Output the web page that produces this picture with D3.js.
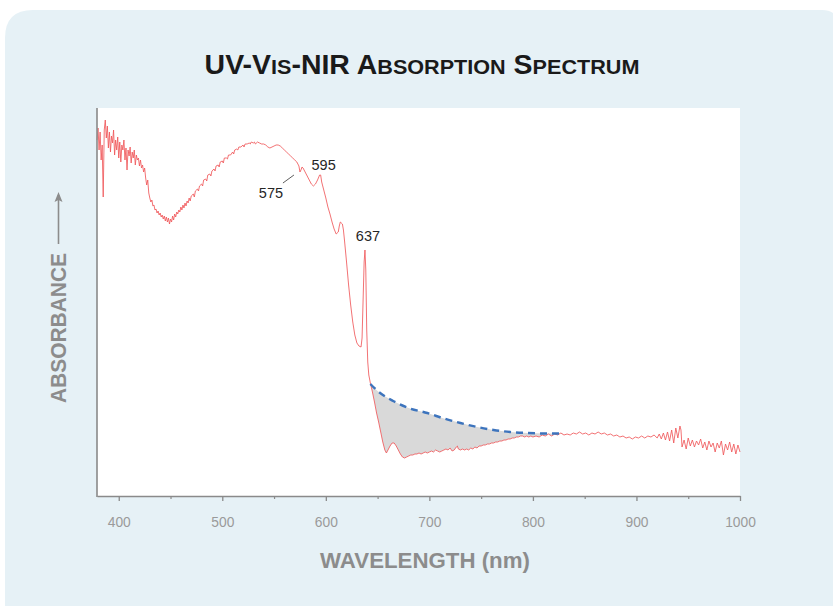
<!DOCTYPE html>
<html>
<head>
<meta charset="utf-8">
<script src="https://cdn.jsdelivr.net/npm/d3@7"></script>
<style>
  html, body { margin: 0; padding: 0; background: #ffffff; }
  svg { display: block; }
</style>
</head>
<body>
<svg id="chart" width="833" height="611"></svg>
<script>
// ---------------- DATA ----------------
const xTicksMajor = [400, 500, 600, 700, 800, 900, 1000];
const xTicksMinor = [450, 550, 650, 750, 850, 950];

// [wavelength nm, absorbance (arbitrary units)]
const spectrum = [
  [379,3.56],[380,3.68],[381,3.46],[382,3.64],[383,3.36],[384,3.51],[385,2.99],[386,3.66],[387,3.76],[388,3.58],
  [389,3.70],[390,3.48],[391,3.64],[392,3.44],[393,3.60],[394,3.53],[395,3.66],[396,3.41],[397,3.56],[398,3.46],
  [399,3.59],[400,3.38],[401,3.54],[402,3.34],[403,3.51],[404,3.46],[405,3.56],[406,3.36],[407,3.48],[408,3.26],
  [409,3.46],[410,3.40],[411,3.49],[412,3.33],[413,3.44],[414,3.38],[415,3.46],[416,3.31],[417,3.41],[418,3.36],
  [419,3.38],[420,3.30],[421,3.36],[422,3.28],[423,3.31],[424,3.24],[425,3.28],[426,3.18],[427,3.11],[428,3.16],
  [429,3.03],[430,2.98],[431,2.94],[432,2.96],[433,2.90],[434,2.91],[435,2.86],[436,2.87],[437,2.83],[438,2.85],
  [439,2.81],[440,2.83],[441,2.79],[442,2.81],[443,2.77],[444,2.80],[445,2.75],[446,2.79],[447,2.74],[448,2.78],
  [449,2.72],[450,2.77],[451,2.74],[452,2.80],[453,2.76],[454,2.82],[455,2.79],[456,2.84],[457,2.82],[458,2.86],
  [459,2.84],[460,2.89],[461,2.86],[462,2.91],[463,2.88],[464,2.93],[465,2.90],[466,2.95],[467,2.93],[468,2.98],
  [469,2.95],[470,3.00],[472,3.02],[473,2.99],[474,3.05],[476,3.07],[477,3.05],[478,3.10],[480,3.12],[481,3.10],
  [482,3.16],[484,3.17],[485,3.15],[486,3.21],[488,3.22],[489,3.20],[490,3.25],[492,3.27],[493,3.25],[494,3.30],
  [496,3.31],[497,3.29],[498,3.34],[500,3.35],[501,3.33],[502,3.38],[504,3.38],[505,3.37],[506,3.41],[508,3.41],
  [510,3.44],[511,3.42],[512,3.46],[514,3.47],[515,3.46],[516,3.49],[518,3.49],[520,3.51],[521,3.49],[522,3.52],
  [524,3.52],[526,3.53],[527,3.52],[528,3.54],[530,3.53],[531,3.54],[532,3.52],[534,3.54],[536,3.53],
  [538,3.52],[540,3.52],[542,3.51],[544,3.49],[546,3.48],[548,3.49],[550,3.50],[552,3.51],[554,3.51],[556,3.50],
  [558,3.48],[560,3.46],[562,3.44],[564,3.42],[566,3.40],[568,3.38],[570,3.36],[572,3.34],[574,3.30],[575,3.24],
  [576,3.26],[577,3.29],[578,3.28],[580,3.24],[582,3.20],[584,3.16],[586,3.12],[588,3.10],[590,3.12],[592,3.16],
  [594,3.21],[595,3.21],[596,3.14],[598,3.06],[600,2.98],[602,2.89],[604,2.82],[606,2.74],[608,2.67],[610,2.62],
  [612,2.64],[613,2.70],[614,2.74],[616,2.72],[617,2.66],[618,2.56],[620,2.34],[622,2.11],[624,1.91],[626,1.74],
  [628,1.61],[630,1.53],[632,1.50],[634,1.49],[635,1.58],[636,1.96],[637,2.34],[637.8,2.46],[638.6,2.26],[639.5,1.66],
  [640.5,1.34],[641.5,1.21],[643,1.13],[645,1.04],[647,0.94],[649,0.83],[651,0.74],[653,0.64],[655,0.54],[657,0.46],
  [658.5,0.43],[660,0.46],[662,0.50],[664,0.53],[666,0.53],[668,0.50],[670,0.46],[672,0.42],[674,0.39],[676,0.38],
  [678,0.39],[680,0.40],[682,0.41],[684,0.41],[686,0.42],[688,0.42],[690,0.43],[692,0.42],[694,0.43],[696,0.44],
  [698,0.43],[700,0.44],[702,0.45],[704,0.44],[706,0.46],[708,0.45],[710,0.44],[712,0.45],[714,0.46],[716,0.47],
  [718,0.46],[720,0.48],[722,0.45],[724,0.46],[726,0.49],[727,0.50],[728,0.47],[730,0.46],[732,0.47],[734,0.46],
  [736,0.47],[738,0.46],[740,0.48],[742,0.47],[744,0.49],[746,0.48],[748,0.50],[750,0.50],[752,0.51],[754,0.51],
  [756,0.52],[758,0.52],[760,0.53],[762,0.53],[764,0.54],[766,0.54],[768,0.55],[770,0.55],[772,0.56],[774,0.56],
  [776,0.57],[778,0.57],[780,0.58],[782,0.58],[784,0.59],[786,0.59],[788,0.60],[790,0.60],[792,0.59],[794,0.60],
  [796,0.59],[798,0.60],[800,0.59],[803,0.60],[806,0.59],[809,0.61],[812,0.60],[815,0.62],[818,0.60],[821,0.62],
  [824,0.61],[827,0.63],[830,0.61],[833,0.62],[836,0.61],[839,0.63],[842,0.62],[845,0.64],[848,0.62],[851,0.63],
  [854,0.61],[857,0.63],[860,0.62],[863,0.64],[866,0.62],[869,0.63],[872,0.61],[875,0.62],[878,0.60],[881,0.61],
  [884,0.59],[887,0.60],[890,0.58],[893,0.59],[896,0.57],[899,0.59],[902,0.58],[905,0.60],[908,0.58],[911,0.60],
  [914,0.59],[917,0.61],[920,0.58],[922,0.62],[924,0.57],[926,0.63],[928,0.56],[930,0.64],[932,0.55],[934,0.66],
  [936,0.53],[938,0.68],[940,0.58],[942,0.70],[943,0.66],[944,0.49],[946,0.56],[948,0.47],[950,0.58],[952,0.50],
  [954,0.56],[956,0.49],[958,0.55],[960,0.51],[962,0.57],[964,0.48],[966,0.54],[968,0.46],[970,0.55],[972,0.49],
  [974,0.53],[976,0.44],[978,0.53],[980,0.48],[982,0.55],[984,0.41],[986,0.52],[988,0.46],[990,0.54],[992,0.44],
  [994,0.52],[996,0.42],[998,0.51],[1000,0.44]
];

// fitted background (dashed) [wavelength nm, absorbance]
const baseline = [
  [643,1.12],[650,1.05],[665,0.95],[680,0.88],[698,0.83],[714,0.775],[730,0.73],[746,0.69],[762,0.66],[778,0.64],
  [795,0.63],[812,0.625],[829,0.625]
];

const peakLabels = [575, 595, 637];

// ---------------- LAYOUT ----------------
const svg = d3.select("#chart");
const plot = { left: 97, right: 740, top: 108, bottom: 496 };

const x = d3.scaleLinear().domain([379, 1000]).range([plot.left, plot.right]);
const y = d3.scaleLinear().domain([0, 3.88]).range([plot.bottom, plot.top]);

// background panel with rounded top corners
const px0 = 5, py0 = 10, px1 = 838, py1 = 606, rL = 28, rR = 16;
svg.append("path")
  .attr("d", `M${px0},${py1} L${px0},${py0 + rL} Q${px0},${py0} ${px0 + rL},${py0} L${px1 - rR},${py0} Q${px1},${py0} ${px1},${py0 + rR} L${px1},${py1} Z`)
  .attr("fill", "#e6f1f6");

// white plotting area
svg.append("rect")
  .attr("x", plot.left).attr("y", plot.top)
  .attr("width", plot.right - plot.left).attr("height", plot.bottom - plot.top)
  .attr("fill", "#ffffff");

// ---------------- SHADED AREA ----------------
const defs = svg.append("defs");
defs.append("clipPath").attr("id", "aboveSpectrum")
  .append("path")
  .attr("d", d3.area().x(d => x(d[0])).y0(plot.top).y1(d => y(d[1]))(spectrum));

svg.append("path")
  .attr("clip-path", "url(#aboveSpectrum)")
  .attr("d", d3.area().x(d => x(d[0])).y0(plot.bottom).y1(d => y(d[1])).curve(d3.curveMonotoneX)(baseline))
  .attr("fill", "#d9d9d9");

// ---------------- SPECTRUM ----------------
svg.append("path")
  .datum(spectrum)
  .attr("d", d3.line().x(d => x(d[0])).y(d => y(d[1])))
  .attr("fill", "none")
  .attr("stroke", "#f0595b")
  .attr("stroke-width", 0.85)
  .attr("stroke-linejoin", "round");

// dashed baseline
svg.append("path")
  .datum(baseline)
  .attr("d", d3.line().x(d => x(d[0])).y(d => y(d[1])).curve(d3.curveMonotoneX))
  .attr("fill", "none")
  .attr("stroke", "#3d74bd")
  .attr("stroke-width", 2.4)
  .attr("stroke-dasharray", "7,5");

// ---------------- AXES ----------------
const axisColor = "#8a8a8a";
const xAxis = svg.append("g").attr("transform", `translate(0,${plot.bottom})`)
  .call(d3.axisBottom(x).tickValues(xTicksMajor).tickSize(5).tickSizeOuter(0).tickPadding(15).tickFormat(d3.format("d")));
xAxis.select(".domain").attr("stroke", axisColor).attr("stroke-width", 1.6);
xAxis.selectAll(".tick line").attr("stroke", axisColor).attr("stroke-width", 1.3);
xAxis.selectAll(".tick text")
  .attr("fill", "#9a9a9a")
  .attr("font-family", "'Liberation Sans', Arial, sans-serif")
  .attr("font-size", 15);
xAxis.selectAll(".tick text").attr("textLength", function () {
  return this.getComputedTextLength() * 0.92;
}).attr("lengthAdjust", "spacingAndGlyphs");

const xMinor = svg.append("g").attr("transform", `translate(0,${plot.bottom})`)
  .call(d3.axisBottom(x).tickValues(xTicksMinor).tickSize(3).tickFormat(""));
xMinor.select(".domain").remove();
xMinor.selectAll(".tick line").attr("stroke", axisColor).attr("stroke-width", 1.2);

svg.append("line")
  .attr("x1", plot.left).attr("x2", plot.left)
  .attr("y1", plot.top).attr("y2", plot.bottom + 1)
  .attr("stroke", axisColor).attr("stroke-width", 1.6);

// ---------------- PEAK LABELS ----------------
const labelFont = "'Liberation Sans', Arial, sans-serif";
const spAt = nm => spectrum.reduce((a, b) => Math.abs(b[0] - nm) < Math.abs(a[0] - nm) ? b : a);
const labelOffsets = { 575: [-29, 26], 595: [3, -5], 637: [3, -9] };
peakLabels.forEach(nm => {
  const p = spAt(nm === 637 ? 637.8 : nm);
  const [dx, dy] = labelOffsets[nm];
  svg.append("text")
    .attr("x", x(p[0]) + dx).attr("y", y(p[1]) + dy)
    .attr("text-anchor", "middle")
    .attr("font-family", labelFont).attr("font-size", 14.5).attr("fill", "#262626")
    .text(nm);
  if (nm === 575) {
    svg.append("line")
      .attr("x1", x(p[0]) - 17).attr("y1", y(p[1]) + 11)
      .attr("x2", x(p[0]) - 6).attr("y2", y(p[1]) + 3)
      .attr("stroke", "#333").attr("stroke-width", 0.8);
  }
});

// ---------------- TITLES ----------------
const titleFont = "'Liberation Sans', Arial, sans-serif";
function fitWidth(sel, cx, target) {
  const w = sel.node().getBBox().width;
  const k = target / w;
  sel.attr("transform", `translate(${cx},0) scale(${k},1) translate(${-cx},0)`);
}

const title = svg.append("text")
  .attr("x", 422).attr("y", 74)
  .attr("text-anchor", "middle")
  .attr("font-family", titleFont).attr("font-weight", "bold").attr("fill", "#1a1a1a");
[["UV-V", 27], ["IS", 20.5], ["-NIR A", 27], ["BSORPTION", 20.5], [" S", 27], ["PECTRUM", 20.5]]
  .forEach(([t, s]) => title.append("tspan").attr("font-size", s).text(t));
fitWidth(title, 422, 435);

const xTitle = svg.append("text")
  .attr("x", 425).attr("y", 568)
  .attr("text-anchor", "middle")
  .attr("font-family", titleFont).attr("font-weight", "bold").attr("font-size", 22)
  .attr("fill", "#8c8c8c")
  .text("WAVELENGTH (nm)");
fitWidth(xTitle, 425, 210);

// y title, rotated, with arrow
const yG = svg.append("g").attr("transform", "translate(66,328) rotate(-90)");
const yTitle = yG.append("text")
  .attr("x", 0).attr("y", 0)
  .attr("text-anchor", "middle")
  .attr("font-family", titleFont).attr("font-weight", "bold").attr("font-size", 22)
  .attr("fill", "#8c8c8c")
  .text("ABSORBANCE");
fitWidth(yTitle, 0, 150);
yG.append("line")
  .attr("x1", 84).attr("x2", 133).attr("y1", -7.5).attr("y2", -7.5)
  .attr("stroke", "#8c8c8c").attr("stroke-width", 1.6);
yG.append("path")
  .attr("d", "M136,-7.5 L126,-11.5 L128,-7.5 L126,-3.5 Z")
  .attr("fill", "#8c8c8c");
</script>
</body>
</html>
